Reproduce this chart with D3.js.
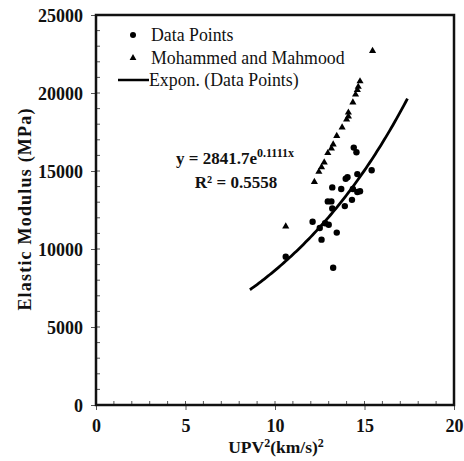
<!DOCTYPE html>
<html><head><meta charset="utf-8">
<script src="https://cdn.jsdelivr.net/npm/d3@7"></script>
<style>body{margin:0;background:#fff}svg{display:block}</style>
</head><body>
<script>
const dataX = [10.6,12.1,12.5,12.6,12.8,13.0,13.25,13.45,12.95,13.15,13.2,13.2,13.7,13.9,14.3,14.35,13.95,14.05,14.6,14.75,14.6,15.4,14.4,14.55];
const dataY = [9500,11750,11350,10600,11650,11550,8800,11050,13050,13050,12600,13950,13850,12750,13150,13850,14500,14600,13650,13700,14800,15050,16500,16200];
const mmX = [10.6,12.2,12.45,12.6,12.75,12.95,13.15,13.25,13.45,13.75,14.0,14.1,14.1,14.35,14.5,14.6,14.65,14.75,15.45];
const mmY = [11450,14300,14950,15250,15550,16150,16450,16700,17250,17800,18300,18500,18750,19400,19900,20200,20400,20750,22700];
const fitA = 2841.7, fitB = 0.1111, fitRange = [8.6, 17.4];
const xTicks = [0,5,10,15,20];
const yTicks = [0,5000,10000,15000,20000,25000];
const legendLabels = ["Data Points","Mohammed and Mahmood","Expon. (Data Points)"];

const W=464,H=461;
const svg=d3.select("body").append("svg").attr("width",W).attr("height",H);
const x=d3.scaleLinear().domain([0,20]).range([96,454]);
const y=d3.scaleLinear().domain([0,25000]).range([405,15]);
const serif="'Liberation Serif','Times New Roman',serif";

// minor ticks
svg.append("g").selectAll("line").data(d3.range(1,20)).join("line")
  .attr("x1",d=>x(d)).attr("x2",d=>x(d)).attr("y1",405).attr("y2",401)
  .attr("stroke","#555").attr("stroke-width",1);
svg.append("g").selectAll("line").data(d3.range(1000,25000,1000)).join("line")
  .attr("x1",96).attr("x2",100).attr("y1",d=>y(d)).attr("y2",d=>y(d))
  .attr("stroke","#555").attr("stroke-width",1);

// axes
const gx=svg.append("g").attr("transform","translate(0,405)")
  .call(d3.axisBottom(x).tickValues(xTicks).tickSize(5).tickPadding(8).tickFormat(d3.format("d")));
const gy=svg.append("g").attr("transform","translate(96,0)")
  .call(d3.axisLeft(y).tickValues(yTicks).tickSize(5).tickPadding(8).tickFormat(d3.format("d")));
[gx,gy].forEach(g=>{
  g.select(".domain").remove();
  g.selectAll(".tick line").attr("stroke","#555");
  g.selectAll("text").attr("font-family",serif).attr("font-weight","bold").attr("font-size",18).attr("fill","#111");
});
gy.selectAll("text").attr("dy","0.35em");
gx.selectAll("text").attr("dy","0.8em");

// frame
svg.append("rect").attr("x",96).attr("y",15).attr("width",358).attr("height",390)
  .attr("fill","none").attr("stroke","#111").attr("stroke-width",2.5);

// fit line
const fitXs=d3.range(fitRange[0],fitRange[1]+0.001,0.1);
svg.append("path").datum(fitXs)
  .attr("d",d3.line().x(d=>x(d)).y(d=>y(fitA*Math.exp(fitB*d))))
  .attr("fill","none").attr("stroke","#000").attr("stroke-width",2.8);

// points
svg.append("g").selectAll("circle").data(dataX.map((d,i)=>[d,dataY[i]])).join("circle")
  .attr("cx",d=>x(d[0])).attr("cy",d=>y(d[1])).attr("r",3.2).attr("fill","#000");
const tri=d3.symbol().type(d3.symbolTriangle).size(22);
svg.append("g").selectAll("path").data(mmX.map((d,i)=>[d,mmY[i]])).join("path")
  .attr("d",tri).attr("transform",d=>`translate(${x(d[0])},${y(d[1])})`).attr("fill","#000");

// legend
const lg=svg.append("g");
lg.append("circle").attr("cx",133).attr("cy",35).attr("r",3).attr("fill","#000");
lg.append("path").attr("d",d3.symbol().type(d3.symbolTriangle).size(20)).attr("transform","translate(133,58)").attr("fill","#000");
lg.append("line").attr("x1",118).attr("x2",149).attr("y1",80).attr("y2",80).attr("stroke","#000").attr("stroke-width",2.5);
lg.selectAll("text").data(legendLabels).join("text")
  .attr("x",(d,i)=>i==2?149:151).attr("y",(d,i)=>[35,58,80][i]).attr("dy","0.35em")
  .attr("font-family",serif).attr("font-size",17.8).attr("fill","#111").text(d=>d);

// equation
const eq=svg.append("text").attr("x",235).attr("y",164).attr("text-anchor","middle")
  .attr("font-family",serif).attr("font-weight","bold").attr("font-size",17).attr("fill","#111");
eq.append("tspan").text("y = 2841.7e");
eq.append("tspan").attr("font-size",12).attr("dy",-7).text("0.1111x");
svg.append("text").attr("x",236).attr("y",188).attr("text-anchor","middle")
  .attr("font-family",serif).attr("font-weight","bold").attr("font-size",17).attr("fill","#111")
  .text("R² = 0.5558");

// axis titles
const xt=svg.append("text").attr("x",276).attr("y",453).attr("text-anchor","middle")
  .attr("font-family",serif).attr("font-weight","bold").attr("font-size",17.5).attr("fill","#111");
xt.append("tspan").text("UPV");
xt.append("tspan").attr("font-size",12).attr("dy",-6).text("2");
xt.append("tspan").attr("dy",6).text("(km/s)");
xt.append("tspan").attr("font-size",12).attr("dy",-6).text("2");
svg.append("text").attr("transform","translate(31,209) rotate(-90)").attr("text-anchor","middle")
  .attr("font-family",serif).attr("font-weight","bold").attr("font-size",18).attr("letter-spacing",1.2).attr("fill","#111")
  .text("Elastic Modulus  (MPa)");
</script>
</body></html>
